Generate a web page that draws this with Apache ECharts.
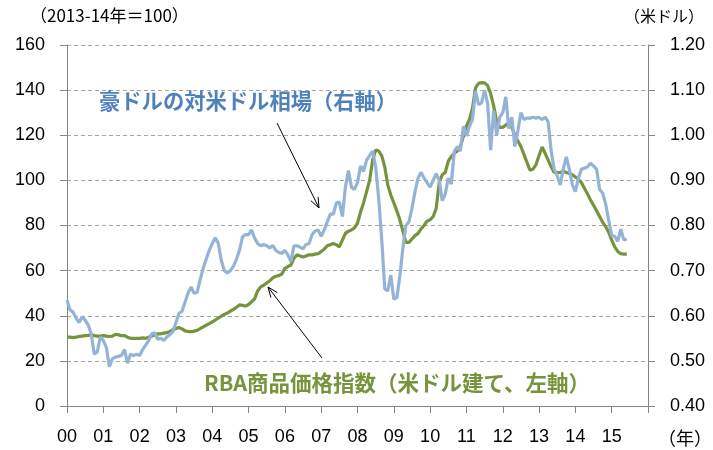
<!DOCTYPE html>
<html>
<head>
<meta charset="utf-8">
<script src="https://cdn.jsdelivr.net/npm/echarts@6/dist/echarts.min.js"></script>
<style>
  html, body { margin: 0; padding: 0; background: #fff; }
  #main { width: 713px; height: 450px; }
</style>
</head>
<body>
<div id="main"></div>
<script>
// monthly data, Jan 2000 - Jun 2015
const startYear = 2000;
const yearTicks = ['00', '01', '02', '03', '04', '05', '06', '07', '08', '09', '10', '11', '12', '13', '14', '15'];

// AUD/USD (right axis)
const audUsd = [
  0.635, 0.613, 0.608, 0.595, 0.585, 0.598, 0.590, 0.580, 0.560, 0.515, 0.520, 0.553,
  0.545, 0.530, 0.487, 0.505, 0.508, 0.510, 0.512, 0.525, 0.495, 0.515, 0.512, 0.515,
  0.512, 0.525, 0.535, 0.545, 0.560, 0.562, 0.548, 0.550, 0.545, 0.553, 0.558, 0.565,
  0.585, 0.605, 0.610, 0.630, 0.650, 0.664, 0.650, 0.652, 0.680, 0.705, 0.725, 0.745,
  0.760, 0.773, 0.760, 0.722, 0.700, 0.695, 0.700, 0.710, 0.725, 0.745, 0.775, 0.780,
  0.780, 0.790, 0.772, 0.760, 0.755, 0.758, 0.755, 0.750, 0.756, 0.745, 0.740, 0.738,
  0.745, 0.735, 0.720, 0.755, 0.755, 0.752, 0.748, 0.758, 0.760, 0.780, 0.788, 0.790,
  0.776, 0.790, 0.808, 0.825, 0.825, 0.850, 0.852, 0.820, 0.885, 0.922, 0.885, 0.880,
  0.895, 0.932, 0.920, 0.945, 0.955, 0.965, 0.930, 0.860, 0.770, 0.660, 0.655, 0.690,
  0.637, 0.640, 0.688, 0.750, 0.800, 0.808, 0.838, 0.875, 0.905, 0.918, 0.905, 0.895,
  0.885, 0.900, 0.915, 0.900, 0.855, 0.870, 0.905, 0.892, 0.965, 0.975, 0.965, 1.020,
  0.998, 1.020, 1.035, 1.098, 1.068, 1.072, 1.100, 1.070, 0.967, 1.055, 1.000, 1.040,
  1.050, 1.085, 1.015, 1.040, 0.975, 1.010, 1.050, 1.035, 1.038, 1.038, 1.040, 1.038,
  1.040, 1.035, 1.040, 1.030, 0.965, 0.925, 0.910, 0.890, 0.925, 0.952, 0.925, 0.890,
  0.875, 0.905, 0.925, 0.927, 0.930, 0.938, 0.932, 0.925, 0.880, 0.872, 0.848, 0.812,
  0.778, 0.776, 0.765, 0.792, 0.768, 0.770
];

// RBA commodity price index, USD terms, 2013-14 = 100 (left axis)
const rbaIndex = [
  30.5, 30.5, 30.3, 30.5, 30.8, 31.0, 31.2, 31.3, 31.5, 31.2, 31.0, 31.0,
  31.2, 31.0, 30.8, 31.0, 31.8, 31.5, 31.2, 31.2, 30.5, 30.0, 30.0, 30.0,
  30.0, 30.2, 30.0, 30.5, 31.0, 31.5, 32.0, 32.0, 32.3, 32.5, 33.0, 33.8,
  34.3, 34.8, 34.2, 33.3, 33.0, 33.0, 33.2, 33.5, 34.3, 35.1, 35.8, 36.5,
  37.3, 38.1, 39.0, 39.8, 40.6, 41.2, 42.0, 42.8, 43.8, 44.8, 44.6, 44.3,
  45.0, 46.2, 47.5, 51.0, 52.8, 53.5, 54.5, 55.5, 56.8, 57.5, 57.8, 58.5,
  61.0, 61.8, 62.5, 65.5, 67.0, 66.5, 66.0, 66.5, 67.0, 67.0, 67.3, 67.5,
  68.5, 69.5, 71.0, 71.5, 72.0, 71.5, 70.5, 73.5, 76.5, 77.5, 78.0, 79.0,
  81.0, 86.0, 90.0, 95.0, 100.0, 109.0, 113.5, 113.0, 111.0, 106.0, 98.0, 93.5,
  90.0, 86.5, 82.5, 77.5, 72.5, 72.5, 74.0, 75.5, 76.5, 78.5, 80.0, 82.0,
  82.5, 84.0, 87.5, 99.0, 102.5, 103.5, 108.5, 110.5, 112.0, 113.0, 115.0, 119.5,
  124.0, 127.0, 132.0, 141.0, 143.0, 143.3, 143.2, 142.0, 138.5, 133.0, 126.0, 123.5,
  123.5, 124.5, 125.5, 123.5, 120.0, 117.5, 115.0, 111.5, 108.0, 104.5, 105.0, 107.0,
  111.0, 114.8, 112.0, 109.0, 106.0, 103.5, 103.5, 103.5, 104.0, 103.5, 103.0, 102.5,
  101.5, 100.5, 99.0, 96.5, 94.0, 91.3, 89.0, 86.5, 84.0, 81.5, 79.5, 77.0,
  73.5, 70.5, 68.5, 67.5, 67.3, 67.3
];

const toPoints = (arr) => arr.map((v, i) => [startYear + i / 12, v]);

const myChart = echarts.init(document.getElementById('main'));

const axisFont = 'Liberation Sans, Arial, sans-serif';
const cjkFont = '"Noto Sans CJK JP", sans-serif';
const gray = '#868686';

// arrow helper: line plus open head at (x2, y2)
function arrow(x1, y1, x2, y2) {
  const a = Math.atan2(y2 - y1, x2 - x1);
  const len = 11, spread = 0.38;
  const p1 = [x2 - len * Math.cos(a - spread), y2 - len * Math.sin(a - spread)];
  const p2 = [x2 - len * Math.cos(a + spread), y2 - len * Math.sin(a + spread)];
  return [
    {type: 'line', shape: {x1, y1, x2, y2}, style: {stroke: '#000', lineWidth: 1}, z: 100},
    {type: 'polyline', shape: {points: [p1, [x2, y2], p2]}, style: {stroke: '#000', lineWidth: 1, fill: null}, z: 100}
  ];
}

const option = {
  animation: false,
  grid: {left: 67, right: 65, top: 45, bottom: 44},
  xAxis: {
    type: 'value',
    min: 2000,
    max: 2016,
    interval: 1,
    axisLine: {lineStyle: {color: gray, width: 1}},
    axisTick: {inside: false, length: 7, lineStyle: {color: gray}},
    splitLine: {show: false},
    axisLabel: {
      margin: 22,
      color: '#000',
      fontSize: 18,
      fontFamily: axisFont,
      formatter: (v) => {
        const i = Math.round(v) - startYear;
        return i >= 0 && i < yearTicks.length ? yearTicks[i] : '';
      }
    }
  },
  yAxis: [
    {
      type: 'value',
      min: 0,
      max: 160,
      interval: 20,
      axisLine: {show: true, lineStyle: {color: gray}},
      axisTick: {show: true, length: 7, lineStyle: {color: gray}},
      splitLine: {lineStyle: {color: '#a6a6a6', type: [4, 3], width: 1}},
      axisLabel: {margin: 22, color: '#000', fontSize: 18, fontFamily: axisFont}
    },
    {
      type: 'value',
      min: 0.4,
      max: 1.2,
      interval: 0.1,
      position: 'right',
      axisLine: {show: true, lineStyle: {color: gray}},
      axisTick: {show: true, length: 7, lineStyle: {color: gray}},
      splitLine: {show: false},
      axisLabel: {
        margin: 22, color: '#000', fontSize: 18, fontFamily: axisFont,
        formatter: (v) => v.toFixed(2)
      }
    }
  ],
  series: [
    {
      name: 'RBA商品価格指数',
      type: 'line',
      yAxisIndex: 0,
      data: toPoints(rbaIndex),
      showSymbol: false,
      lineStyle: {color: '#77933c', width: 3.2},
      z: 2
    },
    {
      name: '豪ドルの対米ドル相場',
      type: 'line',
      yAxisIndex: 1,
      data: toPoints(audUsd),
      showSymbol: false,
      lineStyle: {color: '#95b3d7', width: 3.2},
      z: 3
    }
  ],
  graphic: [
    {type: 'text', x: 30, y: 16, style: {text: '（2013-14年＝100）', font: '17px ' + cjkFont, fill: '#000', textVerticalAlign: 'middle'}},
    {type: 'text', x: 624, y: 16, style: {text: '（米ドル）', font: '16px ' + cjkFont, fill: '#000', textVerticalAlign: 'middle'}},
    {type: 'text', x: 658, y: 438, style: {text: '（年）', font: '18px ' + cjkFont, fill: '#000', textVerticalAlign: 'middle'}},
    {type: 'text', x: 99, y: 101, z: 100, style: {text: '豪ドルの対米ドル相場（右軸）', font: 'bold 21.3px ' + cjkFont, fill: '#4f81bd', textVerticalAlign: 'middle'}},
    {type: 'text', x: 204, y: 383, z: 100, style: {text: 'RBA商品価格指数（米ドル建て、左軸）', font: 'bold 21.5px ' + cjkFont, fill: '#77933c', textVerticalAlign: 'middle'}},
    ...arrow(277, 123, 319, 208),
    ...arrow(322, 358, 268, 287)
  ]
};

myChart.setOption(option);
</script>
</body>
</html>
